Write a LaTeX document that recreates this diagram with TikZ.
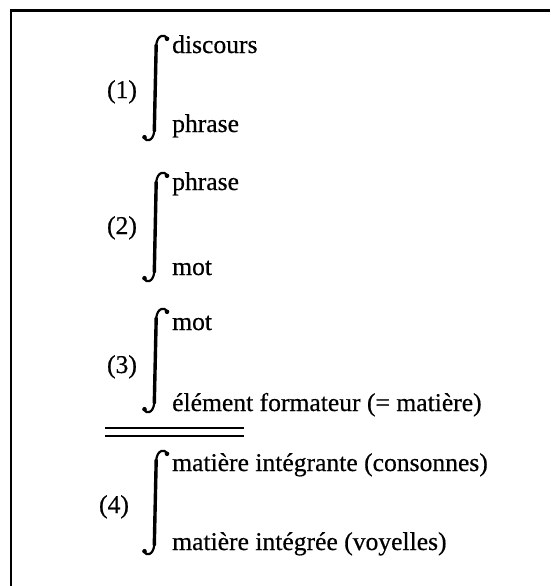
\documentclass[tikz,border=0pt]{standalone}
\usepackage{fontspec}
\setmainfont{Liberation Serif}[FakeBold=0.5]
\begin{document}
\begin{tikzpicture}[x=1pt,y=-1pt,
  txt/.style={anchor=base west,inner sep=0pt,font=\fontsize{25.6}{30}\selectfont},
  lbl/.style={anchor=base,inner sep=0pt,font=\fontsize{25.6}{30}\selectfont},
  frame/.style={line width=2.6pt},
  integ/.style={line width=3.4pt,line cap=round},
  integthin/.style={line width=2.2pt,line cap=round},
  rule/.style={line width=2pt}]
\useasboundingbox (0,0) rectangle (550,586);
\fill[white] (0,0) rectangle (550,586);
% frame (open on right and bottom)
\draw[frame] (550,10.5) -- (11,10.5) -- (11,586);
% texts
\node[txt] (t1) at (172,53) {discours};
\node[txt] (b1) at (172,132) {phrase};
\node[lbl] (l1) at (122,98) {(1)};
\node[txt] (t2) at (172,190) {phrase};
\node[txt] (b2) at (172,275) {mot};
\node[lbl] (l2) at (122,234) {(2)};
\node[txt] (t3) at (172,330) {mot};
\node[txt] (b3) at (172,411) {élément formateur (= matière)};
\node[lbl] (l3) at (122,373) {(3)};
\node[txt] (t4) at (172,471) {matière intégrante (consonnes)};
\node[txt] (b4) at (172,550) {matière intégrée (voyelles)};
\node[lbl] (l4) at (114,513) {(4)};
% integral signs
\foreach \t/\b in {35/141, 172/282, 308/413, 450/555}{
  \draw[integthin] (167,\t+3) .. controls (165,\t-0.5) and (157.5,\t-1) .. (156.2,\t+10);
  \draw[integ] (156.2,\t+10) -- (154.3,\b-10);
  \draw[integthin] (154.3,\b-10) .. controls (153,\b+1) and (146,\b+0.5) .. (144.5,\b-3);
  \fill (167,\t+3.8) circle (2.3);
  \fill (144.5,\b-3.8) circle (2.3);
}
% double rule
\draw[rule] (105,428) -- (244,428);
\draw[rule] (105,436) -- (244,436);
\end{tikzpicture}
\end{document}
